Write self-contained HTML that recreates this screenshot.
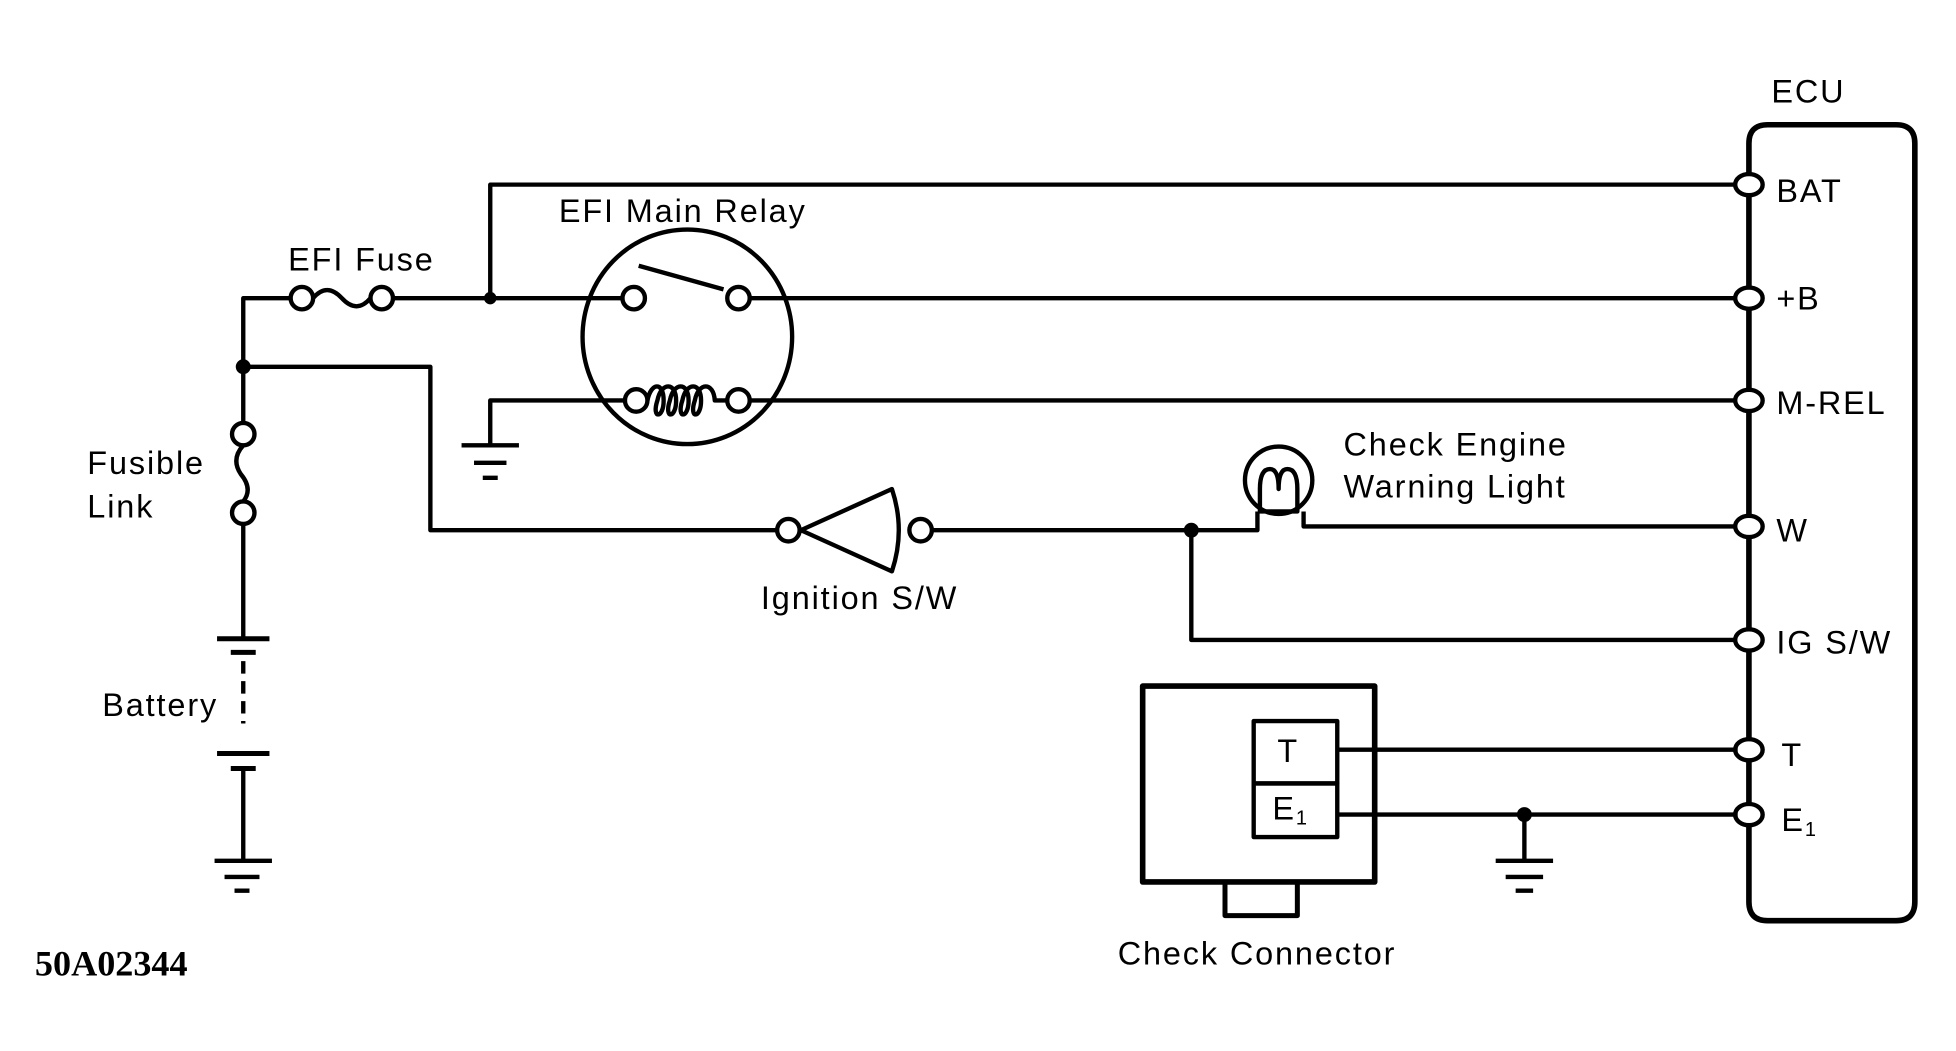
<!DOCTYPE html>
<html><head><style>
html,body{margin:0;padding:0;background:#fff;}
svg{display:block;}
text{font-family:"Liberation Sans",sans-serif;font-size:26px;fill:#000;letter-spacing:1.5px;}
</style></head><body>
<svg width="1956" height="1051" viewBox="0 0 1568 842.5" preserveAspectRatio="none" xmlns="http://www.w3.org/2000/svg">
<g fill="none" stroke="#000" stroke-width="3.5" stroke-linejoin="round">
<path d="M1402 115 Q1402 100 1417 100 L1520 100 Q1535 100 1535 115 L1535 723 Q1535 738 1520 738 L1417 738 Q1402 738 1402 723 Z" stroke-width="4.5"/>
<path d="M393 239 V148 H1393"/>
<path d="M195 294 V239 H233"/>
<circle cx="242" cy="239" r="9" fill="#fff"/>
<path d="M251 239 Q262 226 274 239 Q286 252 297 239"/>
<circle cx="306" cy="239" r="9" fill="#fff"/>
<path d="M315 239 H499"/>
<path d="M601 239 H1393"/>
<ellipse cx="551" cy="270" rx="84" ry="86"/>
<path d="M512 213 L580 232"/>
<circle cx="508" cy="239" r="9" fill="#fff"/>
<circle cx="592" cy="239" r="9" fill="#fff"/>
<path d="M393 356 V321 H501"/>
<path d="M519 321 C522 306 532 306 532 321 C532 336 522 336 527 321 C530 306 542 306 542 321 C542 336 532 336 537 321 C540 306 552 306 552 321 C552 336 542 336 547 321 C550 306 562 306 562 321 C562 336 552 336 557 321 C560 306 572 306 573 321 L583 321"/>
<circle cx="510" cy="321" r="9" fill="#fff"/>
<circle cx="592" cy="321" r="9" fill="#fff"/>
<path d="M601 321 H1393"/>
<path d="M370 357 H416 M380 371 H406 M387 383 H399"/>
<path d="M195 294 V339"/>
<circle cx="195" cy="348" r="9"/>
<circle cx="195" cy="411" r="9"/>
<path d="M195 357 Q185 368 193 380 Q203 392 195 402"/>
<path d="M195 420 V512"/>
<path d="M174 512 H216 M185 523 H205" stroke-width="4"/>
<path d="M195 530 V580" stroke-dasharray="10 6"/>
<path d="M174 604 H216 M185 616 H205" stroke-width="4"/>
<path d="M195 616 V690"/>
<path d="M172 690 H218 M180 703 H208 M188 714 H200"/>
<path d="M195 294 H345 V425 H623"/>
<circle cx="632" cy="425" r="9" fill="#fff"/>
<path d="M642 425 L715 392 Q726 425 715 458 Z"/>
<circle cx="738" cy="425" r="9" fill="#fff"/>
<path d="M747 425 H1008 V410"/>
<path d="M1045 410 V422 H1393"/>
<circle cx="1025" cy="385" r="27"/>
<path d="M1010 410 V392 Q1010 376 1018 376 Q1025 376 1025 392 Q1025 376 1032 376 Q1040 376 1040 392 V410 Z"/>
<path d="M955 425 V513 H1393"/>
<g fill="#fff">
<ellipse cx="1402" cy="148" rx="11" ry="8.5"/>
<ellipse cx="1402" cy="239" rx="11" ry="8.5"/>
<ellipse cx="1402" cy="321" rx="11" ry="8.5"/>
<ellipse cx="1402" cy="422" rx="11" ry="8.5"/>
<ellipse cx="1402" cy="513" rx="11" ry="8.5"/>
<ellipse cx="1402" cy="601" rx="11" ry="8.5"/>
<ellipse cx="1402" cy="653" rx="11" ry="8.5"/>
</g>
<rect x="916" y="550" width="186" height="157" stroke-width="4.5"/>
<rect x="982" y="707" width="58" height="27" stroke-width="4"/>
<rect x="1005" y="578" width="67" height="50"/>
<rect x="1005" y="628" width="67" height="43"/>
<path d="M1072 601 H1393 M1072 653 H1393"/>
<path d="M1222 653 V690 M1199 690 H1245 M1207 703 H1237 M1215 714 H1229"/>
</g>
<g fill="#000">
<circle cx="393" cy="239" r="5"/>
<circle cx="195" cy="294" r="6"/>
<circle cx="955" cy="425" r="6"/>
<circle cx="1222" cy="653" r="6"/>
</g>
<text x="1420" y="82">ECU</text>
<text x="1424" y="162">BAT</text>
<text x="1424" y="248">+B</text>
<text x="1424" y="332">M-REL</text>
<text x="1424" y="434">W</text>
<text x="1424" y="524">IG S/W</text>
<text x="1428" y="614">T</text>
<text x="1428" y="666">E<tspan font-size="16" dy="4">1</tspan></text>
<text x="1024" y="611">T</text>
<text x="1020" y="657">E<tspan font-size="16" dy="4">1</tspan></text>
<text x="231" y="217">EFI Fuse</text>
<text x="448" y="178">EFI Main Relay</text>
<text x="70" y="380">Fusible</text>
<text x="70" y="415">Link</text>
<text x="82" y="574">Battery</text>
<text x="610" y="488">Ignition S/W</text>
<text x="1077" y="365">Check Engine</text>
<text x="1077" y="399">Warning Light</text>
<text x="896" y="773">Check Connector</text>
<text x="28" y="782" style="font-family:'Liberation Serif',serif;font-weight:bold;letter-spacing:0;font-size:29px">50A02344</text>
</svg>
</body></html>
